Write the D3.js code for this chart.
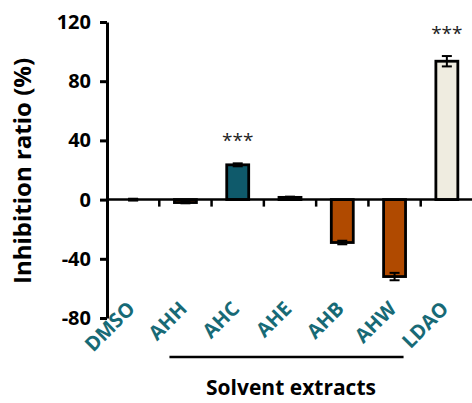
<!DOCTYPE html>
<html>
<head>
<meta charset="utf-8">
<script src="https://cdn.jsdelivr.net/npm/d3@7"></script>
<style>
body { margin: 0; background: #fff; }
text { font-family: "Open Sans", "Noto Sans", sans-serif; font-weight: bold; }
</style>
</head>
<body>
<div id="chart"></div>
<script>
const categories = ['DMSO', 'AHH', 'AHC', 'AHE', 'AHB', 'AHW', 'LDAO']
const values = [0, -2, 23.5, 1.5, -29, -52, 93.5]
const errors = [0.5, 0.5, 1, 0.5, 1.2, 2.5, 3.5]
const colors = ['#ffffff', '#b04a00', '#0f5a6b', '#0f5a6b', '#b04a00', '#b04a00', '#efece0']
const stars = ['', '', '***', '', '', '', '***']
const yTicks = [-80, -40, 0, 40, 80, 120]

const width = 472, height = 403
const margin = {left: 107, right: 0, top: 22, bottom: 85}

const svg = d3.select('#chart').append('svg')
.attr('width', width)
.attr('height', height)

let x = d3.scaleBand()
.domain(categories)
.range([margin.left, 473])
.paddingInner(0.58)
.paddingOuter(0.29)

let y = d3.scaleLinear()
.domain([-80, 120])
.range([318, 22])

// bars
svg.append('g').selectAll('rect')
.data(categories)
.join('rect')
.attr('x', d => x(d))
.attr('width', x.bandwidth())
.attr('y', (d, i) => y(Math.max(0, values[i])))
.attr('height', (d, i) => Math.abs(y(values[i]) - y(0)))
.attr('fill', (d, i) => colors[i])
.attr('stroke', '#000')
.attr('stroke-width', (d, i) => values[i] == 0 ? 0 : 2.8)

// error bars
let eb = svg.append('g').attr('stroke', '#000').attr('stroke-width', 2)
categories.forEach((c, i) => {
	let cx = x(c) + x.bandwidth() / 2
	let dir = values[i] < 0 ? -1 : 1
	let y0 = y(values[i])
	let y1 = y(values[i] + dir * errors[i])
	let y2 = y(values[i] - dir * errors[i])
	eb.append('line').attr('x1', cx).attr('x2', cx).attr('y1', y1).attr('y2', y2)
	eb.append('line').attr('x1', cx - 5).attr('x2', cx + 5).attr('y1', y1).attr('y2', y1)
	eb.append('line').attr('x1', cx - 5).attr('x2', cx + 5).attr('y1', y2).attr('y2', y2)
	if (i == 0) {
		eb.append('line').attr('x1', cx - 5).attr('x2', cx + 5).attr('y1', y0).attr('y2', y0).attr('stroke-width', 3.5)
	}
})

// stars
svg.append('g').selectAll('text')
.data(categories)
.join('text')
.attr('x', d => x(d) + x.bandwidth() / 2)
.attr('y', (d, i) => y(values[i] + errors[i]) - 16)
.attr('text-anchor', 'middle')
.style('font-weight', 'normal')
.style('font-size', '19px')
.attr('fill', '#222')
.text((d, i) => stars[i])

// y axis
let yaxis = svg.append('g')
.attr('transform', 'translate(' + margin.left + ',0)')
.call(d3.axisLeft(y).tickValues(yTicks).tickFormat(d => String(d)).tickSizeInner(7).tickSizeOuter(0).tickPadding(9))
yaxis.select('.domain').attr('stroke', '#000').attr('stroke-width', 3)
yaxis.selectAll('.tick line').attr('stroke', '#000').attr('stroke-width', 3)
yaxis.selectAll('text').style('font-size', '20px').attr('fill', '#000')

// x axis at zero
let xaxisLine = svg.append('g')
xaxisLine.append('line')
.attr('x1', margin.left).attr('x2', 473)
.attr('y1', y(0)).attr('y2', y(0))
.attr('stroke', '#000').attr('stroke-width', 2.5)
xaxisLine.selectAll('.tk')
.data(categories.slice(1))
.join('line')
.attr('x1', d => x(d) - x.step() * x.paddingInner() / 2)
.attr('x2', d => x(d) - x.step() * x.paddingInner() / 2)
.attr('y1', y(0))
.attr('y2', y(0) + 7)
.attr('stroke', '#000').attr('stroke-width', 2.5)

// category labels
svg.append('g').selectAll('text')
.data(categories)
.join('text')
.attr('transform', d => 'translate(' + (x(d) + x.bandwidth() / 2 + 3) + ',' + 310 + ') rotate(-45)')
.attr('text-anchor', 'end')
.style('font-size', '20px')
.attr('fill', '#176a76')
.text(d => d)

// bracket line under extracts
svg.append('line')
.attr('x1', x('AHH') - 5).attr('x2', x('AHW') + x.bandwidth() - 2)
.attr('y1', 357).attr('y2', 357)
.attr('stroke', '#000').attr('stroke-width', 2.5)

svg.append('text')
.attr('x', 291)
.attr('y', 395)
.attr('text-anchor', 'middle')
.style('font-size', '21px')
.text('Solvent extracts')

svg.append('text')
.attr('transform', 'translate(31,171) rotate(-90)')
.attr('text-anchor', 'middle')
.style('font-size', '24px')
.text('Inhibition ratio (%)')
</script>
</body>
</html>
